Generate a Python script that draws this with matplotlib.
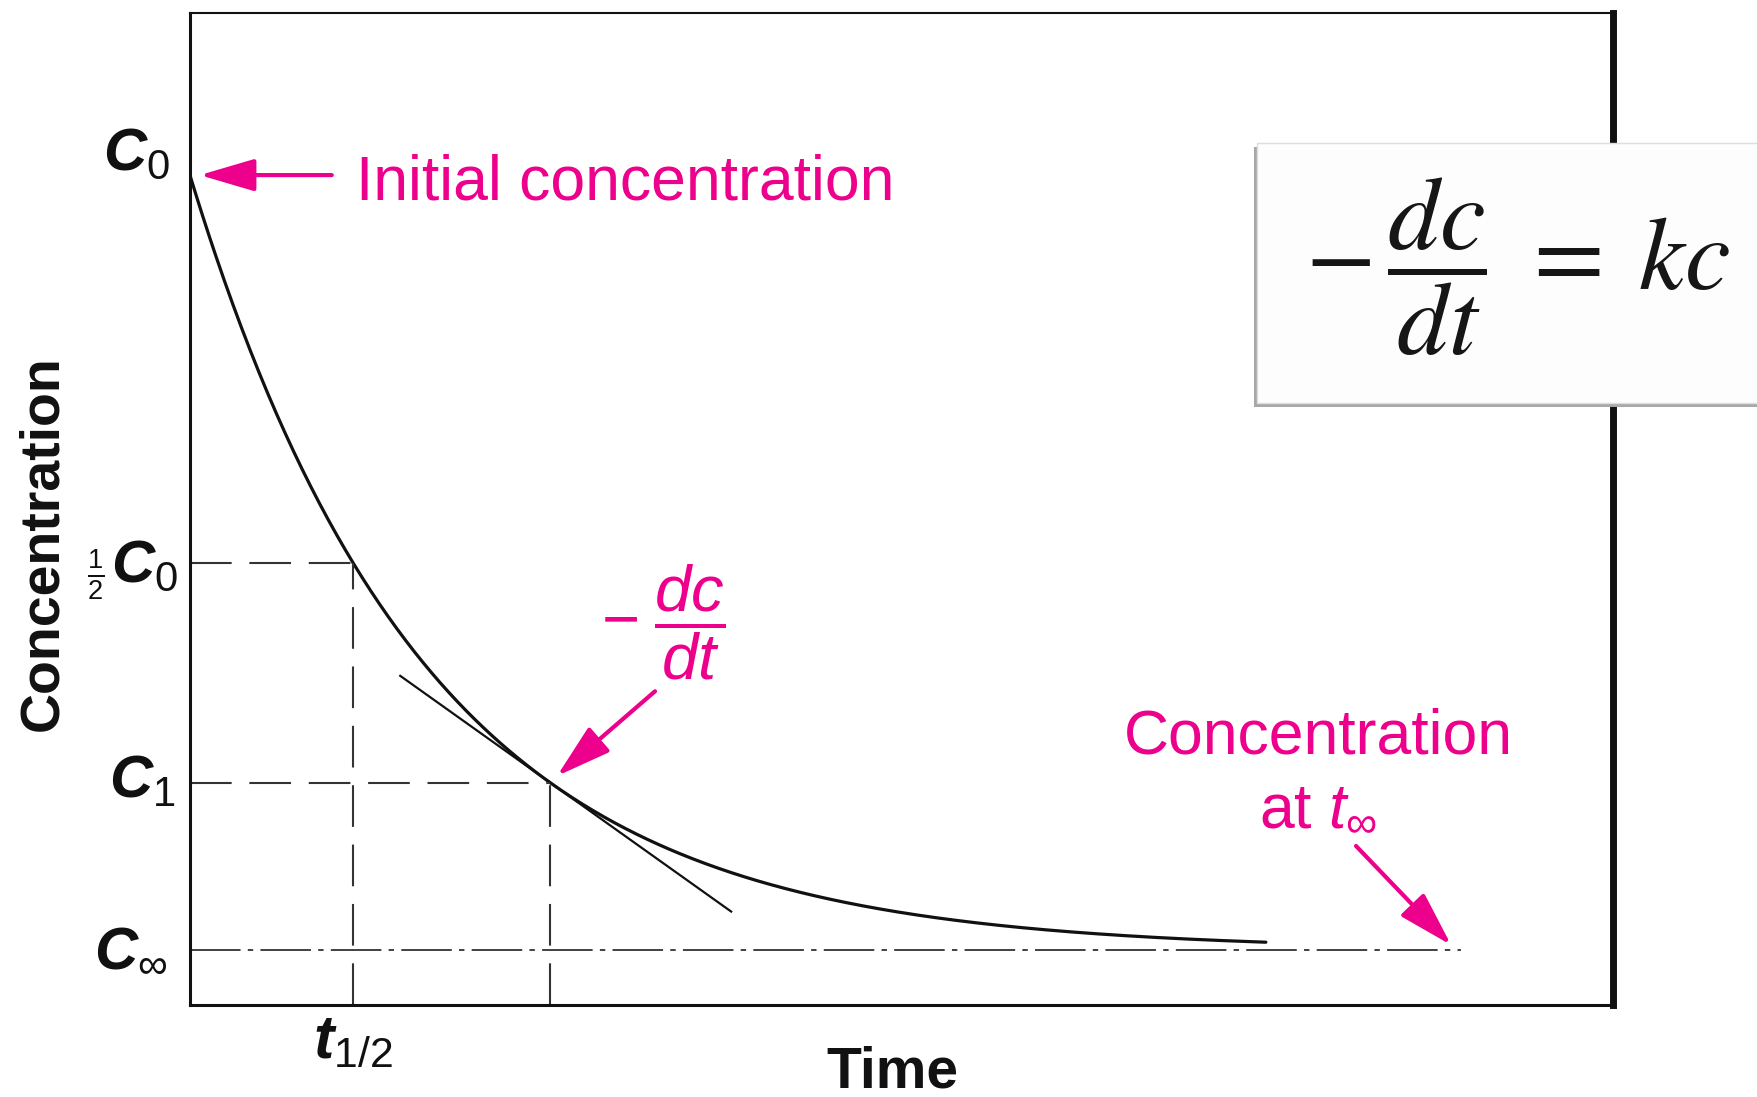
import numpy as np
import matplotlib
matplotlib.use("Agg")
import matplotlib.pyplot as plt
from matplotlib import font_manager
from matplotlib.patches import Rectangle

# pick a condensed face for the axis lettering if it exists
names = {f.name for f in font_manager.fontManager.ttflist}
narrow = "Liberation Sans Narrow" if "Liberation Sans Narrow" in names else "Liberation Sans"

plt.rcParams["mathtext.fontset"] = "custom"
plt.rcParams["mathtext.rm"] = "Liberation Sans"
plt.rcParams["mathtext.it"] = "Liberation Sans:italic"
plt.rcParams["mathtext.bf"] = narrow + ":bold:italic"

pink = "#EC008C"
ink = "#111111"

# schematic values (time in half-lives, concentration relative to c0)
c0 = 1.0
c_inf = 0.066
t_half = 1.0
t1 = 2.21
t_curve_end = 6.6
t_line_end = 7.8
tangent_from = 1.29
tangent_to = 3.32
x_max = 8.73
y_max = 1.195

k = np.log(2) / t_half
c_half = (c0 + c_inf) / 2
c1 = c_inf + (c0 - c_inf) * np.exp(-k * t1)

t = np.linspace(0, t_curve_end, 500)
c = c_inf + (c0 - c_inf) * np.exp(-k * t)

fig = plt.figure(figsize=(17.57, 10.97), dpi=100)
ax = fig.add_axes([0.1081, 0.0839, 0.810, 0.904])
ax.set_xlim(0, x_max)
ax.set_ylim(0, y_max)
ax.set_xticks([])
ax.set_yticks([])
for s in ["left", "bottom"]:
    ax.spines[s].set_linewidth(2.2)
ax.spines["top"].set_linewidth(1.5)
ax.spines["right"].set_linewidth(5)
for s in ax.spines.values():
    s.set_color(ink)

# decay curve and tangent
ax.plot(t, c, color=ink, lw=2.3, solid_capstyle="round")
slope = -k * (c1 - c_inf)
tt = np.array([tangent_from, tangent_to])
ax.plot(tt, c1 + slope * (tt - t1), color=ink, lw=1.6)

# dashed guide lines
dash = dict(color="#333333", lw=1.5, dashes=(20, 8.5))
ax.plot([0, t_half], [c_half, c_half], **dash)
ax.plot([t_half, t_half], [0, c_half], **dash)
ax.plot([0, t1], [c1, c1], **dash)
ax.plot([t1, t1], [0, c1], **dash)
ax.plot([0, t_line_end], [c_inf, c_inf], color="#333333", lw=1.3, dashes=(28, 4, 3, 4))

# concentration labels on the left
lab = dict(xycoords=("axes fraction", "data"), textcoords="offset pixels",
           ha="right", va="baseline", fontsize=43, color=ink)
ax.annotate(r"$\mathbf{C}_{\mathrm{0}}$", xy=(0, c0), xytext=(-20, 5), **lab)
ax.annotate(r"$\mathbf{C}_{\mathrm{0}}$", xy=(0, c_half), xytext=(-12, -19), **lab)
ax.annotate(r"$\frac{1}{2}$", xy=(0, c_half), xytext=(-86, -24), xycoords=("axes fraction", "data"),
            textcoords="offset pixels", ha="right", va="baseline", fontsize=28, color=ink)
ax.annotate(r"$\mathbf{C}_{\mathrm{1}}$", xy=(0, c1), xytext=(-14, -15), **lab)
ax.annotate(r"$\mathbf{C}_{\infty}$", xy=(0, c_inf), xytext=(-22, -16), **lab)

ax.annotate(r"$\mathbf{t}_{\mathrm{1/2}}$", xy=(t_half, 0), xytext=(0, -6),
            xycoords=("data", "axes fraction"), textcoords="offset pixels",
            ha="center", va="top", fontsize=44, color=ink)

fig.text(0.0245, 0.505, "Concentration", rotation=90, ha="center", va="center",
         fontsize=40, fontweight="bold", family=narrow, color=ink)
fig.text(0.508, 0.0091, "Time", ha="center", va="baseline",
         fontsize=41, fontweight="bold", family=narrow, color=ink)

# pink annotations
arrow = dict(arrowstyle="-|>,head_length=1.7,head_width=0.5", color=pink, lw=3,
             mutation_scale=20, shrinkA=0, shrinkB=0)
ax.annotate("", xy=(0.06, c0), xytext=(0.87, c0), arrowprops=arrow)
ax.text(1.02, 0.971, "Initial concentration", color=pink, fontsize=45,
        family="Liberation Sans", ha="left", va="baseline")

ax.annotate("", xy=(2.252, 0.276), xytext=(2.853, 0.378), arrowprops=arrow)
ax.text(2.90, 0.461, r"$-\;\dfrac{dc}{dt}$", color=pink, fontsize=47,
        ha="center", va="center")

ax.annotate("", xy=(7.736, 0.0723), xytext=(7.153, 0.1916), arrowprops=arrow)
ax.text(6.92, 0.3036, "Concentration", color=pink, fontsize=45,
        family="Liberation Sans", ha="center", va="baseline")
ax.text(6.92, 0.218, r"at $t_{\infty}$", color=pink, fontsize=45,
        family="Liberation Sans", ha="center", va="baseline")

# equation box in the corner
fig.patches.append(Rectangle((0.7138, 0.6290), 0.29, 0.237, transform=fig.transFigure,
                             facecolor="#a8a8a8", edgecolor="none", zorder=5))
fig.patches.append(Rectangle((0.7154, 0.6326), 0.29, 0.237, transform=fig.transFigure,
                             facecolor="#fdfdfd", edgecolor="#dddddd", lw=1.0, zorder=6))
fig.text(0.864, 0.757, r"$-\,\dfrac{dc}{dt}\;=\;kc$", math_fontfamily="stix",
         fontsize=74, color="#161616", ha="center", va="center", zorder=7)

fig.savefig("out.png", dpi=100)
